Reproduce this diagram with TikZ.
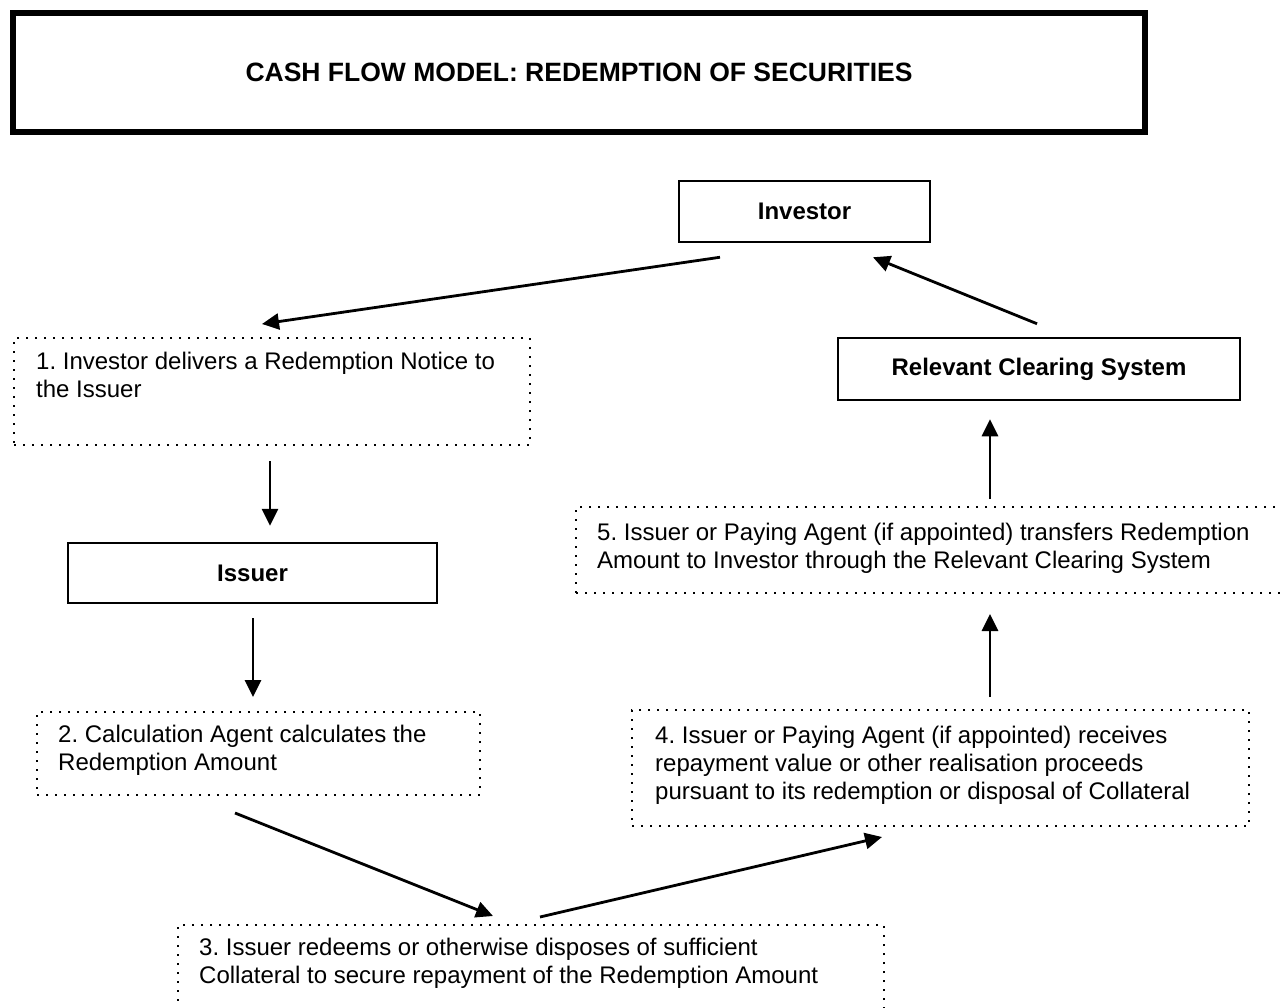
\documentclass[tikz,border=0pt]{standalone}
\usepackage{fontspec}
\setmainfont{Liberation Sans}
\usetikzlibrary{arrows.meta}
\frenchspacing
\tikzset{tb/.append style={draw, line width=6pt, inner sep=0pt, font=\bfseries\fontsize{26.5}{30}\selectfont}}
\tikzset{bx/.append style={draw, line width=2.5pt, inner sep=0pt, font=\bfseries\fontsize{24}{28}\selectfont}}
\tikzset{db/.append style={draw, line width=2pt, dash pattern=on 2pt off 7pt, inner sep=0pt}}
\tikzset{tx/.append style={align=left, inner sep=0pt, anchor=north west, font=\fontsize{24}{28}\selectfont\frenchspacing}}
\tikzset{ar/.append style={line width=2.8pt, -{Triangle[length=17pt,width=16pt]}}}

\begin{document}
\begin{tikzpicture}[x=1pt,y=-1pt]
                \useasboundingbox (0,0) rectangle (1282,1008);
                % title
                \node[tb, minimum width=1132pt, minimum height=119pt] (title) at (579,72.5) {CASH FLOW MODEL: REDEMPTION OF SECURITIES};
                % parties
                \node[bx, minimum width=251pt, minimum height=61pt] (inv) at (804.5,211.5) {Investor};
                \node[bx, minimum width=402pt, minimum height=62pt] (rcs) at (1039,369) {Relevant Clearing System};
                \node[bx, minimum width=369pt, minimum height=60pt] (iss) at (252.5,573) {Issuer};
                % steps
                \node[db, minimum width=516pt, minimum height=107pt] (s1) at (272,391.5) {};
                \node[db, minimum width=443pt, minimum height=83pt] (s2) at (258.5,753.5) {};
                \node[db, minimum width=706pt, minimum height=107pt] (s3) at (531,978.5) {};
                \node[db, minimum width=617pt, minimum height=116pt] (s4) at (940.5,768) {};
                \node[db, minimum width=716pt, minimum height=86pt] (s5) at (934,550) {};
                \node[tx] (t1) at (36,352) {1. Investor delivers a Redemption Notice to\\the Issuer};
                \node[tx] (t2) at (58,725) {2. Calculation Agent calculates the\\Redemption Amount};
                \node[tx] (t3) at (199,938) {3. Issuer redeems or otherwise disposes of sufficient\\Collateral to secure repayment of the Redemption Amount};
                \node[tx] (t4) at (655,726) {4. Issuer or Paying Agent (if appointed) receives\\repayment value or other realisation proceeds\\pursuant to its redemption or disposal of Collateral};
                \node[tx] (t5) at (597,523) {5. Issuer or Paying Agent (if appointed) transfers Redemption\\Amount to Investor through the Relevant Clearing System};
                % flows
                \path ([shift={(-84.5,14)}]inv.south) edge[ar] ([shift={(-10,-13)}]s1.north);
                \path ([shift={(-2,15)}]s1.south) edge[ar] ([shift={(17.5,-16)}]iss.north);
                \path ([shift={(0.5,14)}]iss.south) edge[ar] ([shift={(-5.5,-14)}]s2.north);
                \path ([shift={(-23.5,17)}]s2.south) edge[ar] ([shift={(-38,-8)}]s3.north);
                \path ([shift={(9,-7)}]s3.north) edge[ar] ([shift={(-58.5,10)}]s4.south);
                \path ([shift={(49.5,-12)}]s4.north) edge[ar] ([shift={(56,20)}]s5.south);
                \path ([shift={(56,-7)}]s5.north) edge[ar] ([shift={(-49,18)}]rcs.south);
                \path ([shift={(-2,-13)}]rcs.north) edge[ar] ([shift={(68.5,14)}]inv.south);
            \end{tikzpicture}
\end{document}
